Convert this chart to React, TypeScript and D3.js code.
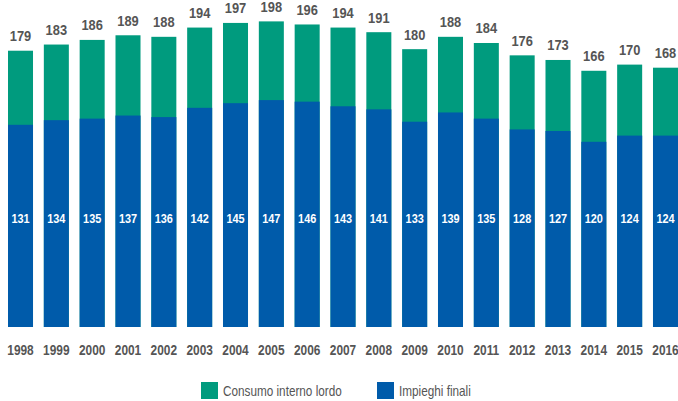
import React from "react";
import * as d3 from "d3";

const years = ["1998","1999","2000","2001","2002","2003","2004","2005","2006","2007","2008","2009","2010","2011","2012","2013","2014","2015","2016"];
const consumoInterno = [179,183,186,189,188,194,197,198,196,194,191,180,188,184,176,173,166,170,168];
const impieghiFinali = [131,134,135,137,136,142,145,147,146,143,141,133,139,135,128,127,120,124,124];

const W = 678, H = 401;
const GREEN = "#009b7e";
const BLUE = "#005baa";
const GRAY = "#555555";
const FONT = "'Liberation Sans', Arial, sans-serif";

function NText(props: { x: number; y: number; sx: number; size: number; anchor?: string; bold?: boolean; fill: string; children: React.ReactNode }) {
  const { x, y, sx, size, anchor = "start", bold = false, fill, children } = props;
  return (
    <text transform={`translate(${x},${y}) scale(${sx},1)`} textAnchor={anchor as any} fontFamily={FONT}
      fontWeight={bold ? "bold" : "normal"} fontSize={size} fill={fill}>{children}</text>
  );
}

export default function App() {
  const x = d3.scaleBand<string>().domain(years).range([8, 678]).paddingInner(0.302).paddingOuter(0);
  const y = d3.scaleLinear().domain([0, 200]).range([327, 18.3]);
  const bw = x.bandwidth();
  return (
    <svg width={W} height={H} style={{ position: "absolute", left: 0, top: 0, display: "block" }}>
      {years.map((yr, i) => {
        const x0 = x(yr)!;
        const cx = x0 + bw / 2;
        return (
          <g key={yr}>
            <rect x={x0} y={y(consumoInterno[i])} width={bw} height={y(0) - y(consumoInterno[i])} fill={GREEN} />
            <rect x={x0} y={y(impieghiFinali[i])} width={bw} height={y(0) - y(impieghiFinali[i])} fill={BLUE} />
            <NText x={cx} y={y(consumoInterno[i]) - 9.5} sx={0.92} size={14} anchor="middle" bold fill={GRAY}>{consumoInterno[i]}</NText>
            <NText x={cx} y={223} sx={0.84} size={13} anchor="middle" bold fill="#ffffff">{impieghiFinali[i]}</NText>
            <NText x={cx} y={355} sx={0.85} size={14} anchor="middle" bold fill={GRAY}>{yr}</NText>
          </g>
        );
      })}
      <rect x={201} y={382} width={17} height={17} fill={GREEN} />
      <NText x={223} y={396} sx={0.84} size={14} fill={GRAY}>Consumo interno lordo</NText>
      <rect x={377} y={382} width={17} height={17} fill={BLUE} />
      <NText x={399} y={396} sx={0.84} size={14} fill={GRAY}>Impieghi finali</NText>
    </svg>
  );
}
